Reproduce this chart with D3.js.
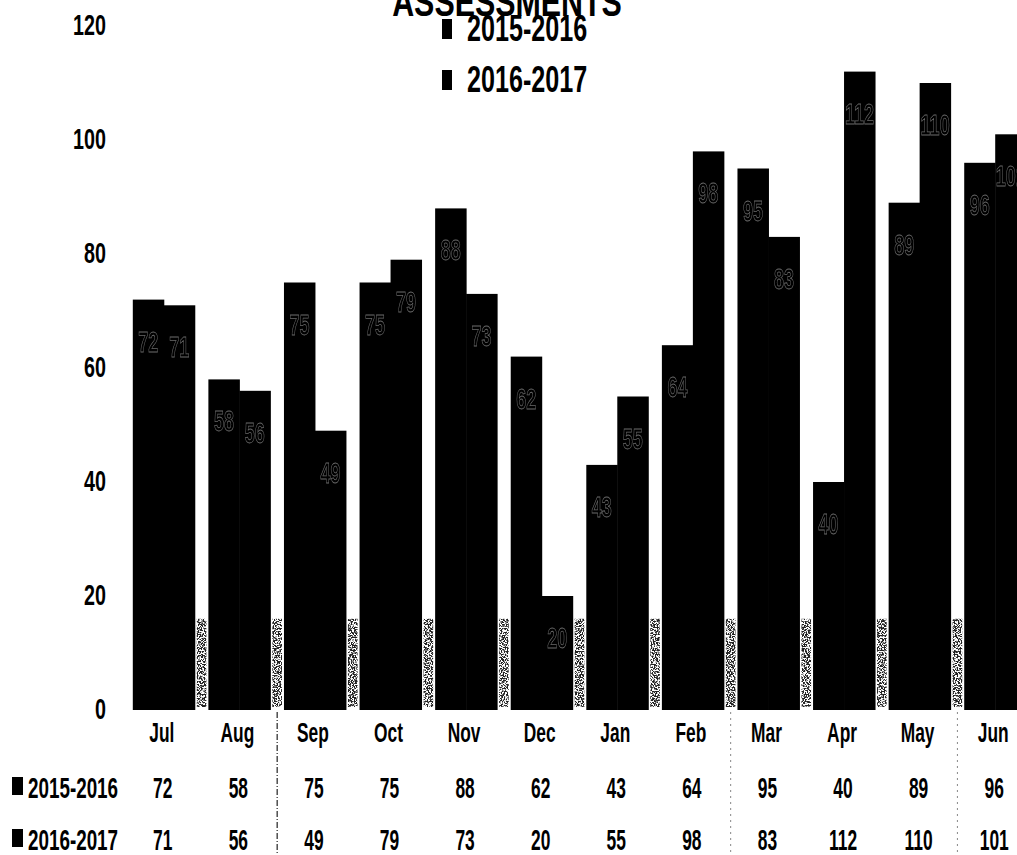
<!DOCTYPE html>
<html>
<head>
<meta charset="utf-8">
<script src="https://cdn.jsdelivr.net/npm/d3@7"></script>
<style>
  html, body { margin: 0; padding: 0; background: #fff; }
  svg { display: block; }
  text { font-family: "Liberation Sans", Arial, sans-serif; font-weight: bold; fill: #000; }
</style>
</head>
<body>
<svg id="chart" width="1017" height="855"></svg>
<script>
// Monthly assessment counts, two school years
const months = ["Jul", "Aug", "Sep", "Oct", "Nov", "Dec", "Jan", "Feb", "Mar", "Apr", "May", "Jun"];
const seriesNames = ["2015-2016", "2016-2017"];
const values2015 = [72, 58, 75, 75, 88, 62, 43, 64, 95, 40, 89, 96];
const values2016 = [71, 56, 49, 79, 73, 20, 55, 98, 83, 112, 110, 101];
const yTicks = [0, 20, 40, 60, 80, 100, 120];
const chartTitle = "ASSESSMENTS";
// table separators fall after these months
const separatorsAfter = ["Aug", "Feb", "May"];

const series = [values2015, values2016];

const svg = d3.select("#chart");
const W = 1017, H = 855;

const x = d3.scaleBand().domain(months).range([126, 1033]).paddingInner(0.18).paddingOuter(0.09);
const xs = d3.scaleBand().domain(d3.range(series.length)).range([0, x.bandwidth()]);
const y = d3.scaleLinear().domain([0, 120]).range([710, 26]);

const defs = svg.append("defs");
// speckled texture for the grey noise between bar groups
const f = defs.append("filter").attr("id", "speckle")
  .attr("x", 0).attr("y", 0).attr("width", 1).attr("height", 1);
f.append("feTurbulence").attr("type", "fractalNoise").attr("baseFrequency", 0.7)
  .attr("numOctaves", 2).attr("seed", 7).attr("result", "noise");
f.append("feColorMatrix").attr("in", "noise").attr("type", "matrix")
  .attr("values", "0 0 0 0 0  0 0 0 0 0  0 0 0 0 0  9 0 0 0 -4.0").attr("result", "mask");
f.append("feComposite").attr("in", "SourceGraphic").attr("in2", "mask").attr("operator", "in");
// soft edge for the faint in-bar numbers
defs.append("filter").attr("id", "soft")
  .append("feGaussianBlur").attr("stdDeviation", 0.4);

const step = x.step();
const gapPad = step * 0.18;
const gaps = svg.append("g");
months.forEach((m) => {
  const gx = x(m) + x.bandwidth();
  gaps.append("rect")
    .attr("x", gx + 2).attr("width", gapPad - 4)
    .attr("y", y(16)).attr("height", y(0) - y(16) - 3)
    .attr("fill", "#222").attr("filter", "url(#speckle)");
});

// bars
const groups = svg.append("g").selectAll("g")
  .data(months).join("g")
  .attr("transform", d => `translate(${x(d)},0)`);

groups.selectAll("rect")
  .data((m, i) => series.map((s, k) => ({ k, v: s[i] })))
  .join("rect")
  .attr("x", d => xs(d.k))
  .attr("width", xs.bandwidth() + 0.5)
  .attr("y", d => y(d.v))
  .attr("height", d => y(0) - y(d.v))
  .attr("fill", "#000");

// faint value labels printed inside the bars
groups.selectAll("g.vl")
  .data((m, i) => series.map((s, k) => ({ k, v: s[i] })))
  .join("g").attr("class", "vl")
  .attr("filter", "url(#soft)")
  .attr("transform", d => `translate(${xs(d.k) + xs.bandwidth() / 2},${y(d.v) + 52}) scale(0.6,1)`)
  .append("text")
  .attr("text-anchor", "middle")
  .style("font-size", "30px")
  .style("fill", "#000")
  .style("stroke", "#6a6a6a")
  .style("stroke-width", 0.8)
  .text(d => d.v);

// y axis labels
const yAxis = svg.append("g").attr("transform", "translate(106,0)")
  .call(d3.axisLeft(y).tickValues(yTicks).tickSize(0).tickPadding(0));
yAxis.select(".domain").remove();
yAxis.selectAll("text")
  .attr("transform", "scale(0.68,1)")
  .attr("dy", "0.3em")
  .style("font-size", "29px")
  .style("font-family", "'Liberation Sans', Arial, sans-serif")
  .style("font-weight", "bold");

// month labels
const xAxis = svg.append("g").attr("transform", "translate(-2,722)")
  .call(d3.axisBottom(x).tickSize(0).tickPadding(0));
xAxis.select(".domain").remove();
xAxis.selectAll("text")
  .attr("transform", "scale(0.62,1)")
  .attr("dy", "0.72em")
  .style("font-size", "28px")
  .style("font-family", "'Liberation Sans', Arial, sans-serif")
  .style("font-weight", "bold");

// data table under the axis
const rowBase = [798, 850];
series.forEach((s, k) => {
  const row = svg.append("g");
  row.append("rect").attr("x", 12).attr("width", 11)
    .attr("y", rowBase[k] - 21).attr("height", 18).attr("fill", "#000");
  row.append("g").attr("transform", `translate(28,${rowBase[k]}) scale(0.65,1)`)
    .append("text").style("font-size", "29px").text(seriesNames[k]);
  row.selectAll("g.cell").data(months).join("g").attr("class", "cell")
    .attr("transform", m => `translate(${x(m) + x.bandwidth() / 2 - 1},${rowBase[k]}) scale(0.6,1)`)
    .append("text").attr("text-anchor", "middle").style("font-size", "29px")
    .text((m, i) => s[i]);
});

// dashed separators through the table
svg.append("g").selectAll("line").data(separatorsAfter).join("line")
  .attr("x1", m => x(m) + x.bandwidth() + gapPad / 2)
  .attr("x2", m => x(m) + x.bandwidth() + gapPad / 2)
  .attr("y1", 712).attr("y2", H)
  .attr("stroke", (m, i) => i === 0 ? "#222" : "#888")
  .attr("stroke-width", (m, i) => i === 0 ? 1.2 : 1)
  .attr("stroke-dasharray", (m, i) => i === 0 ? "6 2 1 2" : "2 4");

// legend
const legendBase = [41, 92];
const legend = svg.append("g");
seriesNames.forEach((name, k) => {
  legend.append("rect").attr("x", 442).attr("width", 10)
    .attr("y", legendBase[k] - 22).attr("height", 20).attr("fill", "#000");
  legend.append("g").attr("transform", `translate(467,${legendBase[k]}) scale(0.68,1)`)
    .append("text").style("font-size", "37px").text(name);
});

// title (runs off the top edge)
svg.append("g").attr("transform", "translate(507,16) scale(0.76,1)")
  .append("text").attr("text-anchor", "middle").style("font-size", "40px").text(chartTitle);
</script>
</body>
</html>
